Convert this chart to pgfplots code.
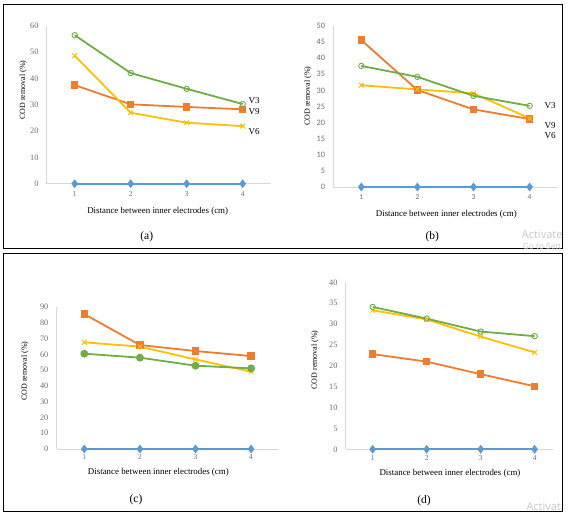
\documentclass[border=0pt]{standalone}
\usepackage{pgfplots}
\pgfplotsset{compat=1.18}
\usepackage{fontspec}
\setmainfont{Liberation Serif}
\newfontfamily\carlito{Carlito}
\newfontfamily\wmfont{Open Sans}

\definecolor{sblue}{HTML}{5B9BD5}
\definecolor{sorange}{HTML}{ED7D31}
\definecolor{syellow}{HTML}{FFC000}
\definecolor{sgreen}{HTML}{70AD47}
\definecolor{gridgray}{HTML}{D9D9D9}
\definecolor{tickgray}{HTML}{6E6E6E}
\definecolor{wmgray}{HTML}{C8C8C8}

\pgfplotsset{
    codplot/.style={
        set layers=standard,
        scale only axis,
        clip=false,
        axis lines=left,
        axis line style={draw=gridgray, line width=0.8pt, -},
        major tick length=0pt,
        xmin=0.5, xmax=4.5, ymin=0,
        xtick={1,2,3,4},
        /pgf/number format/assume math mode=true,
        xticklabel style={font=\fontsize{7.5}{9}\selectfont, text=tickgray, anchor=center, yshift=-10pt},
        yticklabel style={font=\fontsize{8.3}{10}\selectfont, text=tickgray, anchor=east, inner sep=0pt, xshift=-8pt},
        xlabel={Distance between inner electrodes (cm)},
        ylabel={COD removal (\%)},
        xlabel style={font=\fontsize{8.9}{10}\selectfont, anchor=center},
        ylabel style={font=\fontsize{8}{10}\selectfont, anchor=center},
    },
    sb/.style={color=sblue, line width=1.8pt, mark=diamond*, mark size=3pt, mark options={solid}},
    so/.style={color=sorange, line width=1.8pt, mark=square*, mark size=2.8pt, mark options={solid}},
    sy/.style={color=syellow, line width=1.8pt, mark=x, mark size=3.3pt, mark options={solid, line width=1pt}},
    sg/.style={color=sgreen, line width=1.8pt, mark=o, mark size=2.7pt, mark options={solid, line width=0.9pt}},
    sgf/.style={color=sgreen, line width=1.8pt, mark=*, mark size=3pt, mark options={solid}},
}

\begin{document}
\begin{tikzpicture}[x=1pt,y=1pt]

% panel frames
\draw[black, line width=0.8pt] (3.5,512.5) rectangle (562,268.5);
\draw[black, line width=0.8pt] (3.5,263.5) rectangle (562,5.3);

% (a)
\begin{axis}[codplot,
    at={(46.7pt,333.3pt)}, anchor=south west,
    width=224pt, height=157.7pt,
    ymax=60, ytick={0,10,...,60},
    xlabel style={at={(axis description cs:0.4955,-0.173)}},
    ylabel style={at={(axis description cs:-0.105,0.594)}},
]
\addplot[sb] coordinates {(1,0) (2,0) (3,0) (4,0)};
\addplot[so] coordinates {(1,37.5) (2,30.2) (3,29.2) (4,28.3)};
\addplot[sy] coordinates {(1,48.7) (2,27.0) (3,23.2) (4,21.9)};
\addplot[sg] coordinates {(1,56.5) (2,42.1) (3,36.1) (4,30.3)};
\end{axis}

% (b)
\begin{axis}[codplot,
    at={(333.25pt,330pt)}, anchor=south west,
    width=224.45pt, height=161pt,
    ymax=50, ytick={0,5,...,50},
    xticklabel style={font=\carlito\fontsize{7.5}{9}\selectfont},
    yticklabel style={font=\carlito\fontsize{8.3}{10}\selectfont},
    xlabel style={at={(axis description cs:0.5036,-0.170)}},
    ylabel style={at={(axis description cs:-0.1125,0.565)}},
]
\addplot[sb] coordinates {(1,0) (2,0) (3,0) (4,0)};
\addplot[so] coordinates {(1,45.6) (2,30.1) (3,24.1) (4,21.1)};
\addplot[sy] coordinates {(1,31.6) (2,30.3) (3,29.1) (4,21.3)};
\addplot[sg] coordinates {(1,37.6) (2,34.2) (3,28.3) (4,25.2)};
\end{axis}

% (c)
\begin{axis}[codplot,
    at={(56.5pt,68pt)}, anchor=south west,
    width=222.4pt, height=142pt,
    ymax=90, ytick={0,10,...,90},
    xticklabel style={yshift=2.3pt},
    xlabel style={at={(axis description cs:0.458,-0.167)}},
    ylabel style={at={(axis description cs:-0.1416,0.549)}},
]
\addplot[sb] coordinates {(1,0) (2,0) (3,0) (4,0)};
\addplot[so] coordinates {(1,85.5) (2,65.9) (3,62.1) (4,58.9)};
\addplot[sy] coordinates {(1,67.6) (2,64.9) (3,56.8) (4,49.0)};
\addplot[sgf] coordinates {(1,60.4) (2,57.9) (3,52.8) (4,51.1)};
\end{axis}

% (d)
\begin{axis}[codplot,
    at={(345.7pt,67.7pt)}, anchor=south west,
    width=207.3pt, height=167pt,
    xmax=4.34,
    ymax=40, ytick={0,5,...,40},
    xticklabel style={yshift=1pt},
    xlabel style={at={(axis description cs:0.503,-0.144)}},
    ylabel style={at={(axis description cs:-0.148,0.535)}},
]
\addplot[sb] coordinates {(1,0) (2,0) (3,0) (4,0)};
\addplot[so] coordinates {(1,22.8) (2,21.0) (3,18.0) (4,15.1)};
\addplot[sy] coordinates {(1,33.3) (2,31.1) (3,27.0) (4,23.2)};
\addplot[sg] coordinates {(1,34.1) (2,31.3) (3,28.2) (4,27.1)};
\end{axis}

% series names
\begin{scope}[every node/.style={font=\fontsize{9}{10}\selectfont, inner sep=0pt}]
\node at (254,416) {V3};
\node at (254,405) {V9};
\node at (254,385) {V6};
\node at (550,411) {V3};
\node at (550,391) {V9};
\node at (550,381) {V6};
\end{scope}

% captions
\begin{scope}[every node/.style={font=\fontsize{11.5}{12}\selectfont, inner sep=0pt}]
\node at (146.7,280.3) {(a)};
\node at (432.3,280.3) {(b)};
\node at (136,17) {(c)};
\node at (424,16.3) {(d)};
\end{scope}

% screen watermark
\node[anchor=west, inner sep=0pt, text=wmgray, font=\wmfont\fontsize{11}{12}\selectfont] at (521.7,282.7) {Activate};
\node[anchor=west, inner sep=0pt, text=wmgray, font=\wmfont\fontsize{8.3}{9}\selectfont] at (522.7,270.8) {Go to Sett};
\node[anchor=west, inner sep=0pt, text=wmgray, font=\wmfont\fontsize{11}{12}\selectfont] at (526.3,10) {Activat};

\pgfresetboundingbox
\path (0,0) rectangle (568,517);
\end{tikzpicture}
\end{document}
